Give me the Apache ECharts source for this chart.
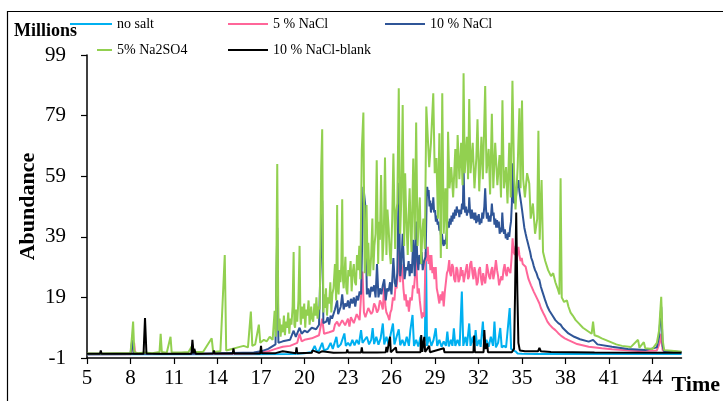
<!DOCTYPE html>
<html>
<head>
<meta charset="utf-8">
<script src="https://cdn.jsdelivr.net/npm/echarts@6/dist/echarts.min.js"></script>
<style>
  html, body { margin: 0; padding: 0; background: #fff; }
  #chart { width: 723px; height: 401px; }
</style>
</head>
<body>
<div id="chart"></div>
<script>
// Total ion chromatograms (abundance in millions vs retention time, min)

const seriesNames = ['no salt', '5 % NaCl', '10 % NaCl', '5% Na2SO4', '10 % NaCl-blank'];
const seriesColors = ['#00B0F0', '#FF6699', '#2F5597', '#92D050', '#000000'];

// [time, abundance]
const noSalt = [
  [5,0.2],[8,0.2],[12,0.2],[16,0.2],[19,0.3],[19.5,0.4],[20,0.6],[20.5,1],[20.7,3],[20.85,1.2],[21,1.4],
  [21.22,4],[21.35,1.5],[21.6,2],[21.8,4],[21.95,2],[22.2,6],[22.3,2.5],[22.5,3.5],[22.75,7.1],[22.85,3],
  [23,4],[23.15,3],[23.3,5],[23.45,3.2],[23.6,5],[23.75,3.5],[23.9,8.2],[24,4],[24.1,3.5],[24.3,6],
  [24.45,3.5],[24.6,5],[24.7,8.9],[24.8,3.6],[24.95,6],[25.1,3.4],[25.25,5.5],[25.4,10.4],[25.5,3.5],
  [25.65,6],[25.8,3.5],[25.95,7],[26.1,10.4],[26.2,3.5],[26.35,6],[26.5,8.5],[26.6,3.2],[26.75,5],
  [26.9,3],[27.05,6],[27.2,3],[27.3,8.2],[27.45,13.2],[27.55,3],[27.7,5],[27.85,2.8],[28,6],[28.15,3],
  [28.3,5],[28.38,33],[28.45,3],[28.6,6],[28.75,3],[28.9,5],[29.05,8.8],[29.15,3],[29.3,5],[29.45,2.7],
  [29.6,4.5],[29.75,3],[29.85,7.7],[29.95,2.8],[30.1,5],[30.2,3],[30.3,8.8],[30.4,3],[30.55,5],[30.7,3],
  [30.85,20.9],[30.95,3],[31.1,6],[31.2,3],[31.36,10.4],[31.45,3],[31.6,6],[31.7,2.8],[31.8,8.2],[31.9,3],
  [32.05,5],[32.15,2.7],[32.3,11],[32.4,3],[32.55,5],[32.7,2.7],[32.85,6],[33,3],[33.1,11],[33.2,2.5],
  [33.35,4],[33.5,8.9],[33.6,2.5],[33.75,3],[33.9,2.5],[34,2.8],[34.15,15.5],[34.25,2],[34.4,1.5],
  [34.55,1.2],[34.7,0.5],[35,0.4],[36,0.3],[40,0.3],[46,0.3]
];

const nacl5 = [
  [5,0.2],[8,0.2],[8.25,4],[8.32,0.3],[12,0.3],[16.5,0.5],[17,0.8],[17.5,1.2],[18,2],[18.5,2.7],[19,3],
  [19.5,4],[19.66,7],[19.8,4.5],[20,5],[20.5,5.5],[21,6.5],[21.22,12],[21.35,7],[21.7,7.5],
  [22,8],[22.1,10],[22.25,11],[22.38,9.5],[22.5,9],[22.6,11.5],[22.7,11],[22.8,9.8],[22.9,10.4],[23,12],
  [23.1,9.4],[23.2,12.5],[23.3,12],[23.4,10.5],[23.5,11],[23.6,13.5],[23.7,13],[23.8,11.5],[23.9,12],
  [24,27.5],[24.1,14],[24.2,12.5],[24.3,12],[24.4,15.5],[24.5,15],[24.6,13.5],[24.7,14.3],[24.8,17],
  [24.9,16],[25,14],[25.1,15],[25.2,18],[25.3,17],[25.4,15],[25.5,23.6],[25.58,16],[25.65,14],[25.75,13],
  [25.85,11.5],[25.92,14],[26,15],[26.1,19],[26.2,18],[26.28,23],[26.35,22],[26.42,26],[26.5,36.3],
  [26.6,24],[26.68,30],[26.75,28],[26.82,22],[26.9,18],[26.98,20],[27.05,16],[27.12,18],[27.2,14.3],
  [27.3,19],[27.4,18],[27.48,23],[27.55,22],[27.62,26],[27.7,31.9],[27.8,20.3],[27.88,22],[27.95,18],
  [28.02,15],[28.1,12.1],[28.18,14],[28.26,12.6],
  [28.35,34],[28.42,31],[28.5,35.7],[28.56,30],[28.62,33],[28.68,28],[28.75,33],[28.82,27],[28.9,29],
  [28.96,25],[29.05,29],[29.12,22],[29.2,20],[29.26,18],[29.3,17],[29.38,20],[29.45,18],[29.52,21],
  [29.6,16],[29.68,21],[29.75,24],[29.82,27],[29.9,28],[29.98,31.3],[30.04,27],[30.1,26],[30.18,30],
  [30.25,29],[30.32,25],[30.4,24],[30.48,29],[30.55,28],[30.62,24],[30.7,25],[30.78,29],[30.84,26],
  [30.9,28],[30.98,24],[31.05,24],[31.12,28],[31.2,30],[31.28,25],[31.35,26],[31.42,30],[31.5,31],
  [31.58,27],[31.65,25],[31.72,29],[31.8,27],[31.88,23],[31.95,24],[32.02,28],[32.1,29],[32.18,25],
  [32.25,23],[32.32,27],[32.4,27],[32.46,23.6],[32.52,26],[32.58,30],[32.65,30],[32.72,26],[32.8,25],
  [32.88,28],[32.95,29],[33.02,25],[33.1,27],[33.2,31.3],[33.28,28],[33.35,26],[33.42,23],[33.5,22.5],
  [33.58,26],[33.65,24.7],[33.72,28],[33.8,30],[33.88,27],[33.95,26],[34.02,29],[34.1,28],[34.2,27],
  [34.28,32],[34.35,38.5],[34.42,34],[34.5,33],[34.56,36],[34.62,31],[34.7,34],[34.75,35.7],[34.82,33],
  [34.9,31],[34.98,32],[35.05,30],[35.15,30.5],[35.25,29.1],[35.35,27],[35.45,25],[35.55,24.5],
  [35.62,23],[35.7,22.5],[35.8,21],[35.9,20],[35.95,19.5],[36.05,18.5],[36.2,17],[36.3,15.5],[36.4,14.5],
  [36.5,13.5],[36.6,12.6],[36.75,11],[36.9,10],[37.1,9],[37.3,8.2],[37.5,7.2],[37.7,6.3],[37.95,5.5],
  [38.2,4.9],[38.8,3.6],[39.6,2.7],[40.5,2.2],[41.2,1.9],[42,1.6],[43,1.3],[44.3,1.5],[44.5,4],[44.6,7],
  [44.7,1.5],[44.8,1],[46,0.9]
];

const nacl10 = [
  [5,0.2],[8,0.3],[8.12,5],[8.22,0.3],[12,0.3],[16.5,0.8],[17,1.2],[17.5,2],[18,3.5],[18.12,42],
  [18.2,4],[18.5,4.5],[19,5],[19.25,8],[19.4,6],[19.66,9],[19.8,7],[20,8],[20.2,7.5],[20.5,9],[20.8,8.5],
  [21,10],[21.22,51],[21.3,10.5],[21.5,11],[21.6,12.5],[21.7,10],[21.8,13],[21.9,12],[22,12],[22.1,15],
  [22.25,18],[22.32,13.5],[22.4,14],[22.5,16],[22.6,20],[22.7,15],[22.8,17],[22.9,16],[23,18],[23.1,15.5],
  [23.2,18.5],[23.3,17],[23.4,19],[23.5,16],[23.6,19.5],[23.7,18],[23.8,21],[23.9,20],[24.06,55.5],
  [24.2,49],[24.3,20],[24.4,22],[24.5,19],[24.6,22.5],[24.7,21],[24.8,23],[24.9,19],[25,30],[25.1,19],
  [25.2,22],[25.3,20],[25.4,23],[25.5,25],[25.6,18],[25.7,22],[25.8,21],[25.9,24],[26,20],[26.13,32],
  [26.22,24],[26.3,22.5],[26.4,27],[26.5,56.8],[26.6,26],[26.68,30],[26.77,40],[26.9,25],[27,29],
  [27.1,28],[27.18,31],[27.25,26],[27.32,30],[27.4,27],[27.5,38],[27.6,26],[27.7,44],[27.78,31],
  [27.85,28],[27.92,33],[28,30],[28.08,34],[28.15,28],[28.25,31],[28.35,32.4],
  [28.42,50],[28.46,55.5],[28.52,53],[28.56,54.4],[28.62,49],[28.67,51],[28.72,47],[28.78,50],[28.84,48],
  [28.88,52],[28.94,47],[29,47.8],[29.06,44],[29.12,46],[29.18,43],[29.24,44],[29.3,41],[29.36,42],
  [29.42,39],[29.48,40],[29.54,37],[29.6,36],[29.66,38],[29.72,36.5],[29.78,39],[29.84,42],[29.9,44],
  [29.96,42],[30.02,45],[30.08,43],[30.14,46],[30.2,44],[30.26,47],[30.32,45],[30.38,48],[30.44,46],
  [30.5,49],[30.56,47],[30.62,48],[30.68,45.5],[30.74,48],[30.8,46.5],[30.86,50],[30.92,48],[30.97,62],
  [31.02,50],[31.08,47],[31.14,49],[31.2,46],[31.26,48],[31.32,47],[31.36,52],[31.42,47],[31.48,45],
  [31.54,48],[31.6,45],[31.66,47],[31.72,44.5],[31.78,47],[31.84,43.5],[31.9,46],[31.96,44],[32.02,46.5],
  [32.08,43],[32.14,45],[32.2,43.5],[32.26,47],[32.32,45],[32.4,49],[32.46,55],[32.52,48],[32.58,45],
  [32.64,47],[32.7,44],[32.76,46],[32.82,44],[32.88,47],[32.92,50],[32.98,46],[33.04,47],[33.1,43],
  [33.16,45],[33.22,42],[33.28,44.5],[33.34,42],[33.4,44],[33.46,40],[33.52,42],[33.58,40.5],[33.64,47],
  [33.7,42],[33.76,40],[33.82,41.5],[33.88,38.5],[33.94,40],[34,38],[34.06,40.5],[34.12,39],[34.18,42],
  [34.24,44],[34.3,50],[34.34,63.3],[34.4,52],[34.46,50],[34.52,53],[34.58,52],[34.64,55],[34.7,56],
  [34.76,57.7],[34.82,54],[34.88,52],[34.94,50],[35,48],[35.08,45],[35.16,42],[35.25,40],[35.32,38.5],
  [35.4,37],[35.48,35.5],[35.56,34],[35.64,32],[35.72,31],[35.8,29.5],[35.9,28],[36,27],[36.1,25.5],
  [36.2,24.7],[36.3,22.5],[36.4,21],[36.5,19.5],[36.6,18],[36.75,16],[36.9,14.5],[37.1,13],[37.3,11.5],
  [37.5,10.5],[37.66,10],[37.8,9],[38.2,7.1],[38.6,6],[39,5.2],[39.6,4.4],[39.9,5],[40.2,3.5],[41.2,2.7],
  [42.3,2],[43.5,1.6],[44.3,2.5],[44.45,6],[44.6,15.9],[44.7,3],[44.8,1.2],[46,1]
];

const na2so4 = [
  [5,0.5],[6,0.5],[7,0.6],[8,0.6],[8.1,6],[8.18,11],[8.26,1],[8.5,0.6],[9,0.8],[9.5,0.6],[10,1],
  [10.08,7],[10.16,1],[10.5,0.7],[10.76,6],[10.84,0.8],[11.5,0.8],[12,1],[12.25,3],[12.35,1],[13,1],
  [13.6,5.5],[13.7,1],[14.2,1.2],[14.5,33],[14.6,1.5],[15,2],[15.4,2.5],[15.8,3],[16.1,2.5],[16.3,14.3],
  [16.4,3],[16.6,3.5],[16.85,10],[16.95,4],[17.2,5],[17.4,4.5],[17.6,6],[17.8,5],[17.94,14.6],[18.02,6],
  [18.12,63],[18.2,8],[18.28,12],[18.35,6],[18.42,10],[18.5,7.5],[18.58,13],[18.65,6.5],[18.72,11],
  [18.8,9],[18.88,14],[18.95,7],[19.02,12],[19.1,10],[19.18,16],[19.25,34],[19.3,10],[19.35,9],[19.42,15],
  [19.5,11],[19.58,18],[19.66,36],[19.72,12],[19.75,10],[19.82,16],[19.9,12],[19.98,17],[20.05,9],
  [20.12,15],[20.2,13],[20.28,18],[20.35,10],[20.42,14],[20.46,16],[20.52,12],[20.6,11],[20.68,17],
  [20.75,13],[20.82,19],[20.9,12],[20.98,16],[21.05,15],[21.15,61.7],[21.22,74.5],[21.3,14],[21.36,20],
  [21.42,15.5],[21.48,22],[21.55,13],[21.62,19],[21.7,17],[21.78,24],[21.85,14],[21.92,20],[22,22],
  [22.1,30],[22.18,18],[22.25,49.5],[22.3,22],[22.35,20],[22.42,28],[22.48,24],[22.54,30],[22.6,51.4],
  [22.65,25],[22.7,22],[22.76,27],[22.82,32.4],[22.88,22],[22.95,20],[23.02,28],[23.1,26],[23.18,31],
  [23.25,21],[23.32,27],[23.4,30],[23.48,24],[23.55,23],[23.62,33],[23.7,28],[23.78,36],[23.85,25],
  [23.95,67.6],[24.06,80],[24.15,27],[24.22,34],[24.28,49.5],[24.36,26],[24.4,37],[24.45,30],[24.52,26],
  [24.6,33],[24.68,45],[24.75,28],[24.82,36],[24.9,40],[24.98,64.3],[25.08,30],[25.14,44],[25.2,38],
  [25.28,59.4],[25.38,31],[25.47,40],[25.55,65.2],[25.65,33],[25.72,48],[25.8,42],[25.88,34],[25.95,30],
  [26.05,45],[26.13,66.5],[26.25,35],[26.32,47],[26.4,50],[26.5,88],[26.6,40],[26.68,52],[26.77,82.5],
  [26.87,36],[26.94,60],[27,48],[27.06,40],[27.12,33],[27.18,46],[27.25,55],[27.32,41],[27.38,34],
  [27.44,50],[27.5,64.8],[27.6,38],[27.7,76.7],[27.8,36],[27.88,45],[27.95,52],[28.05,30],[28.12,40],
  [28.2,45],[28.3,35],[28.4,82],[28.5,81.4],[28.6,62],[28.72,70],[28.88,86.4],[28.98,60],[29.1,65],
  [29.2,45],[29.3,73.2],[29.4,32],[29.5,86.4],[29.6,40],[29.72,55],[29.82,35],[29.9,73.7],[30,55],
  [30.12,62],[30.25,52],[30.4,68],[30.48,55],[30.56,72.6],[30.68,58],[30.8,70],[30.9,56],[30.97,93],
  [31.05,60],[31.2,72],[31.28,58],[31.36,84.5],[31.45,60],[31.6,70],[31.72,55],[31.85,65],[31.93,77.8],
  [32.05,54],[32.2,72],[32.3,58],[32.46,88.8],[32.55,60],[32.7,68],[32.8,53],[32.92,79.6],[33.02,55],
  [33.15,70],[33.3,56],[33.45,66],[33.55,52],[33.65,84.1],[33.75,55],[33.9,62],[34,50],[34.12,70],
  [34.22,52],[34.34,90.5],[34.45,60],[34.55,48],[34.7,62],[34.82,81.4],[34.9,55],[35,84],[35.08,58],
  [35.2,52],[35.35,60],[35.5,56.6],[35.6,45],[35.75,50],[35.9,40],[36.05,45],[36.13,74],[36.22,38],
  [36.35,57.7],[36.45,34],[36.6,31],[36.8,28],[37,26],[37.15,27],[37.3,24],[37.45,22],[37.58,20],
  [37.66,58.3],[37.74,19],[37.9,17.5],[38.1,18],[38.2,16],[38.35,14],[38.5,13],[38.7,11.5],[38.9,10.5],
  [39.2,9],[39.5,8],[39.8,7],[39.9,11],[40,6.5],[40.3,6],[40.5,5.5],[41,4.5],[41.5,3.5],[41.9,3],
  [42.5,2.6],[43,5],[43.1,2.4],[43.4,4.2],[43.5,2.2],[44,2],[44.3,4],[44.45,8],[44.6,19.2],[44.7,5],
  [44.8,1.6],[45.3,1.4],[46,1.1]
];

const blank = [
  [5,0.4],[5.9,0.4],[5.95,1.5],[6,0.4],[8.9,0.4],[9,12.2],[9.1,0.5],[10,0.4],[12.2,0.4],[12.27,5],
  [12.35,0.5],[12.4,2],[12.5,0.4],[13.7,0.5],[13.75,1.5],[13.8,0.5],[15.05,0.5],[15.1,2.2],[15.15,0.5],
  [16.95,0.5],[17,3],[17.05,0.6],[18,0.6],[18.5,1.2],[18.55,0.6],[19.4,0.6],[19.45,2.5],[19.5,0.6],
  [20.5,0.7],[20.55,1.5],[21,0.7],[21.2,1.2],[22,0.7],[22.9,0.8],[22.95,1.8],[23,0.8],[23.9,0.8],
  [23.95,2.5],[24,0.8],[25,0.8],[25.6,0.9],[25.65,2.7],[25.7,0.9],[25.9,6],[25.95,0.9],[26.3,2.5],
  [26.35,0.9],[27,0.9],[28,0.9],[28.05,6.6],[28.12,1],[28.26,6],[28.32,1],[28.6,3],[28.65,0.9],
  [29.6,2.2],[29.65,0.9],[30.5,0.9],[30.55,1.5],[30.6,0.9],[31.65,0.9],[31.7,6.4],[31.75,0.9],
  [32.35,0.9],[32.4,8.2],[32.48,2],[32.6,3.8],[32.65,0.9],[33.5,0.9],[34.3,0.9],[34.45,2],[34.52,20],
  [34.6,47],[34.68,20.4],[34.75,4],[34.85,1.5],[35.2,1.2],[36.1,1.2],[36.2,2.3],[36.3,1.2],[37,1],
  [40,0.8],[46,0.7]
];

const seriesData = [noSalt, nacl5, nacl10, na2so4, blank];

// legend entries: [left, top, key length]
const legendSlots = [[70, 17, 42], [228, 17, 40], [385, 17, 40], [97, 43, 15], [228, 43, 40]];

const FONT = '"Liberation Serif", "Times New Roman", serif';

const chart = echarts.init(document.getElementById('chart'), null, { renderer: 'canvas' });

chart.setOption({
  animation: false,
  backgroundColor: '#fff',
  textStyle: { fontFamily: FONT, color: '#000' },
  grid: { left: 87, right: 40, top: 55, bottom: 43 },
  legend: seriesNames.map((name, i) => ({
    data: [name],
    left: legendSlots[i][0],
    top: legendSlots[i][1],
    icon: 'rect',
    itemWidth: legendSlots[i][2],
    itemHeight: 2,
    itemGap: 0,
    padding: 0,
    selectedMode: false,
    textStyle: { fontFamily: FONT, fontSize: 14, color: '#000' }
  })),
  xAxis: {
    type: 'value',
    min: 5,
    max: 46,
    interval: 3,
    name: 'Time',
    nameLocation: 'end',
    nameGap: -10,
    nameTextStyle: { fontFamily: FONT, fontSize: 22, fontWeight: 'bold', color: '#000',
                     verticalAlign: 'top', align: 'left', padding: [16, 0, 0, 0] },
    axisLine: { onZero: false, lineStyle: { color: '#000', width: 1.5 } },
    axisTick: { inside: false, length: 6, lineStyle: { color: '#000', width: 1.2 } },
    axisLabel: { fontFamily: FONT, fontSize: 21, color: '#000', margin: 10,
                 showMaxLabel: false },
    splitLine: { show: false }
  },
  yAxis: {
    type: 'value',
    min: -1,
    max: 99,
    interval: 20,
    name: 'Abundance',
    nameLocation: 'middle',
    nameGap: 48,
    nameMoveOverlap: false,
    nameTextStyle: { fontFamily: FONT, fontSize: 22, fontWeight: 'bold', color: '#000' },
    axisLine: { show: true, lineStyle: { color: '#000', width: 1.5 } },
    axisTick: { show: true, inside: false, length: 6, lineStyle: { color: '#000', width: 1.2 } },
    axisLabel: { fontFamily: FONT, fontSize: 21, color: '#000', margin: 21 },
    splitLine: { show: false }
  },
  series: seriesNames.map((name, i) => ({
    name: name,
    type: 'line',
    data: seriesData[i],
    symbol: 'none',
    showSymbol: false,
    smooth: false,
    sampling: null,
    color: seriesColors[i],
    lineStyle: { color: seriesColors[i], width: 2 },
    z: 2 + i
  })),
  graphic: [
    {
      type: 'rect',
      shape: { x: 7.5, y: 11.5, width: 760, height: 420 },
      style: { fill: null, stroke: '#000', lineWidth: 1.2 },
      silent: true,
      z: 0
    },
    {
      type: 'text',
      left: 14,
      top: 22,
      style: { text: 'Millions', fontFamily: FONT, fontSize: 18, fontWeight: 'bold', fill: '#000' },
      z: 10
    }
  ]
});
</script>
</body>
</html>
